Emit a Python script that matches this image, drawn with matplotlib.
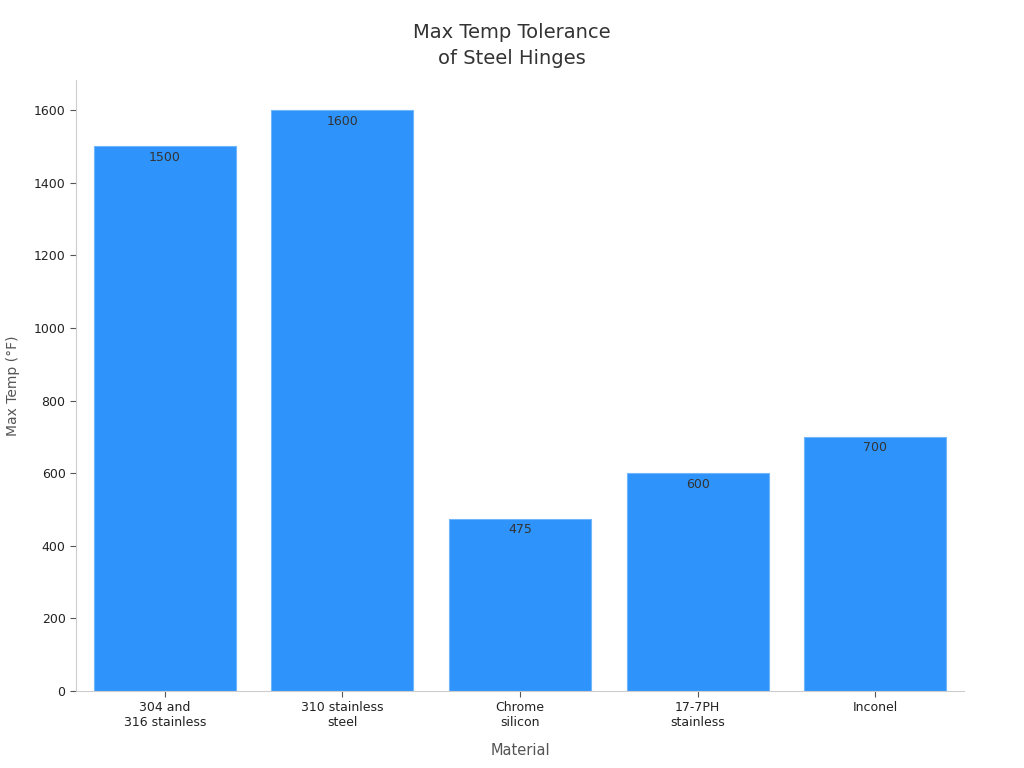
import matplotlib.pyplot as plt

materials = ["304 and\n316 stainless", "310 stainless\nsteel", "Chrome\nsilicon", "17-7PH\nstainless", "Inconel"]
max_temp = [1500, 1600, 475, 600, 700]

fig = plt.figure(figsize=(10.24, 7.68), dpi=100)
ax = fig.add_axes([0.0742, 0.1003, 0.8672, 0.7955])

bars = ax.bar(range(len(materials)), max_temp, width=0.8, color="#2E93FA",
              edgecolor="#6FB6FB", linewidth=0.8)
for b, v in zip(bars, max_temp):
    ax.text(b.get_x() + b.get_width() / 2, v - 12, str(v), ha="center", va="top",
            fontsize=9, color="#333333")

ax.set_xlim(-0.5, 4.5)
ax.set_ylim(0, 1683)
ax.set_xticks(range(len(materials)))
ax.set_xticklabels(materials, fontsize=9, color="#222222")
ax.set_yticks(range(0, 1601, 200))
ax.tick_params(axis="y", labelsize=9, colors="#222222")
ax.tick_params(axis="both", color="#555555", length=4)

for s in ["top", "right"]:
    ax.spines[s].set_visible(False)
for s in ["left", "bottom"]:
    ax.spines[s].set_color("#cccccc")

ax.set_xlabel("Material", fontsize=10.5, color="#555555", labelpad=10)
ax.set_ylabel("Max Temp (°F)", fontsize=10, color="#555555", labelpad=10)
fig.suptitle("Max Temp Tolerance\nof Steel Hinges", fontsize=14, color="#333333",
             y=0.970, linespacing=1.45)

fig.savefig("out.png", dpi=100)
